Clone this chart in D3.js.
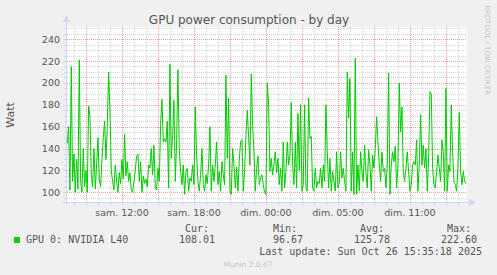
<!DOCTYPE html>
<head>
<meta charset="utf-8">
<script src="https://d3js.org/d3.v7.min.js"></script>
<style>
body { margin: 0; background: #f0f0f0; }
svg { display: block; }
text { font-family: 'DejaVu Sans', sans-serif; fill: #555; }
.mono { font-family: 'DejaVu Sans Mono', monospace; font-size: 10px; }
</style>
</head>
<body>
<div id="chart"></div>
<script>
// GPU power in Watt, one reading every 400 s
var power = [
  145,160,102,215,110,135,100,130,103,221,110,100,140,105,120,100,179,170,115,105,
  140,103,125,150,112,105,130,150,165,130,160,210,175,120,110,102,125,110,100,118,
  108,130,112,153,115,128,110,118,102,100,110,120,133,135,110,128,100,115,108,112,105,
  125,122,140,116,143,104,102,122,110,162,185,146,149,146,165,104,217,131,152,184,
  110,146,212,140,119,107,125,98,119,122,101,113,110,125,107,178,134,110,101,116,
  140,107,101,116,108,125,160,101,125,110,125,146,107,119,101,128,116,107,207,131,
  186,101,98,140,125,104,123,101,130,146,148,101,119,152,175,150,125,208,162,137,
  101,122,133,107,113,116,107,100,98,200,180,119,131,116,125,137,118,131,107,122,
  101,146,104,119,146,125,134,182,125,107,146,104,172,120,180,101,107,180,104,101,
  186,149,151,104,101,122,104,110,108,122,104,125,110,180,137,104,131,101,119,110,
  101,137,104,108,137,113,122,110,101,210,168,204,101,137,98,222.6,98,125,101,137,
  119,110,143,118,104,139,125,101,134,122,140,169,146,125,110,137,119,122,104,125,
  209,98,125,137,128,142,104,125,200,155,178,119,110,122,137,119,101,107,125,128,
  125,148,101,125,171,125,143,122,140,101,131,192,190,122,107,104,119,134,122,110,
  148,137,101,195,101,125,119,180,137,110,107,101,122,173,119,107,119,110,108
];
var startHour = 7.44;          // hours since sam. 00:00
var stepHour = 400 / 3600;
var hourRange = [7.417, 40.75];
var wattRange = [91.1, 251.1];
var yTicks = [100, 120, 140, 160, 180, 200, 220, 240];
var xTickHours = [12, 18, 24, 30, 36];
var xTickLabels = ["sam. 12:00", "sam. 18:00", "dim. 00:00", "dim. 05:00", "dim. 11:00"];
var legendName = "GPU 0: NVIDIA L40";
var stats = { cur: "108.01", min: "96.67", avg: "125.78", max: "222.60" };
var lastUpdate = "Last update: Sun Oct 26 15:35:18 2025";

var W = 497, H = 275;
var pL = 67, pR = 467, pT = 27, pB = 202;

var svg = d3.select("#chart").append("svg").attr("width", W).attr("height", H);
svg.append("rect").attr("width", W).attr("height", H).attr("fill", "#f0f0f0");

var x = d3.scaleLinear().domain(hourRange).range([pL, pR]);
var y = d3.scaleLinear().domain(wattRange).range([pB, pT]);

// canvas
svg.append("rect").attr("x", pL).attr("y", pT)
  .attr("width", pR - pL).attr("height", pB - pT).attr("fill", "#fff");

// grid
var grid = svg.append("g").attr("shape-rendering", "crispEdges");
d3.range(95, 251, 5).forEach(function (v) {
  grid.append("line")
    .attr("x1", pL).attr("x2", pR).attr("y1", Math.round(y(v)) + 0.5).attr("y2", Math.round(y(v)) + 0.5)
    .attr("stroke", v % 20 == 0 ? "#f2a0a0" : "#d6d6d6").attr("stroke-dasharray", "1,1");
});
d3.range(8, 41).forEach(function (h) {
  grid.append("line")
    .attr("y1", pT).attr("y2", pB).attr("x1", Math.round(x(h)) + 0.5).attr("x2", Math.round(x(h)) + 0.5)
    .attr("stroke", h % 3 == 0 ? "#f2a0a0" : "#d6d6d6").attr("stroke-dasharray", "1,1");
});

// axes
var axisCol = "#cfd6f8";
var ax = svg.append("g").attr("shape-rendering", "crispEdges");
ax.append("line").attr("x1", pL - 0.5).attr("x2", pL - 0.5).attr("y1", pB + 3).attr("y2", pT - 5).attr("stroke", axisCol);
ax.append("line").attr("x1", pL - 4).attr("x2", pR + 2).attr("y1", pB + 0.5).attr("y2", pB + 0.5).attr("stroke", axisCol);
d3.range(95, 251, 5).forEach(function (v) {
  var len = v % 20 == 0 ? 3 : 2;
  ax.append("line").attr("x1", pL - 1 - len).attr("x2", pL - 1).attr("y1", Math.round(y(v)) + 0.5).attr("y2", Math.round(y(v)) + 0.5).attr("stroke", axisCol);
});
d3.range(8, 41).forEach(function (h) {
  var len = h % 3 == 0 ? 3 : 2;
  ax.append("line").attr("y1", pB + 1).attr("y2", pB + 1 + len).attr("x1", Math.round(x(h)) + 0.5).attr("x2", Math.round(x(h)) + 0.5).attr("stroke", axisCol);
});
svg.append("path").attr("d", "M" + (pL - 4) + "," + (pT - 5) + "L" + (pL - 0.5) + "," + (pT - 12) + "L" + (pL + 3) + "," + (pT - 5) + "Z").attr("fill", axisCol);
svg.append("path").attr("d", "M" + (pR + 2) + "," + (pB - 3) + "L" + (pR + 9) + "," + (pB + 0.5) + "L" + (pR + 2) + "," + (pB + 4) + "Z").attr("fill", axisCol);

// tick labels
svg.selectAll(".ylab").data(yTicks).enter().append("text")
  .attr("x", pL - 7).attr("y", function (d) { return y(d) + 3.5; })
  .attr("text-anchor", "end").attr("font-size", "9.5px").text(function (d) { return d; });
svg.selectAll(".xlab").data(xTickHours).enter().append("text")
  .attr("x", function (d) { return x(d); }).attr("y", 216)
  .attr("text-anchor", "middle").attr("font-size", "9.5px")
  .text(function (d, i) { return xTickLabels[i]; });

// series
var line = d3.line()
  .x(function (d, i) { return x(startHour + i * stepHour); })
  .y(function (d) { return y(d); });
svg.append("path").datum(power).attr("d", line)
  .attr("fill", "none").attr("stroke", "#00cc00").attr("stroke-width", 1);

// titles
svg.append("text").attr("x", 249).attr("y", 24).attr("text-anchor", "middle")
  .attr("font-size", "12px").text("GPU power consumption - by day");
svg.append("text").attr("transform", "translate(14,115) rotate(-90)").attr("text-anchor", "middle")
  .attr("font-size", "11px").text("Watt");
svg.append("text").attr("transform", "translate(485,5) rotate(90)")
  .attr("font-size", "7px").style("fill", "#c8c8c8").text("RRDTOOL / TOBI OETIKER");

// legend
svg.append("rect").attr("x", 14).attr("y", 237).attr("width", 6).attr("height", 6).attr("fill", "#00cc00");
svg.append("text").attr("class", "mono").attr("x", 26).attr("y", 243).text(legendName);
var cols = [["Cur:", stats.cur, 215], ["Min:", stats.min, 303], ["Avg:", stats.avg, 390], ["Max:", stats.max, 477]];
cols.forEach(function (c) {
  svg.append("text").attr("class", "mono").attr("x", c[2] - 6).attr("y", 232).attr("text-anchor", "end").text(c[0]);
  svg.append("text").attr("class", "mono").attr("x", c[2]).attr("y", 243).attr("text-anchor", "end").text(c[1]);
});
svg.append("text").attr("class", "mono").attr("x", 482).attr("y", 255).attr("text-anchor", "end").text(lastUpdate);
svg.append("text").attr("x", 248).attr("y", 267).attr("text-anchor", "middle")
  .attr("font-size", "7.5px").style("fill", "#c8c8c8").text("Munin 2.0.67");
</script>
</body>
